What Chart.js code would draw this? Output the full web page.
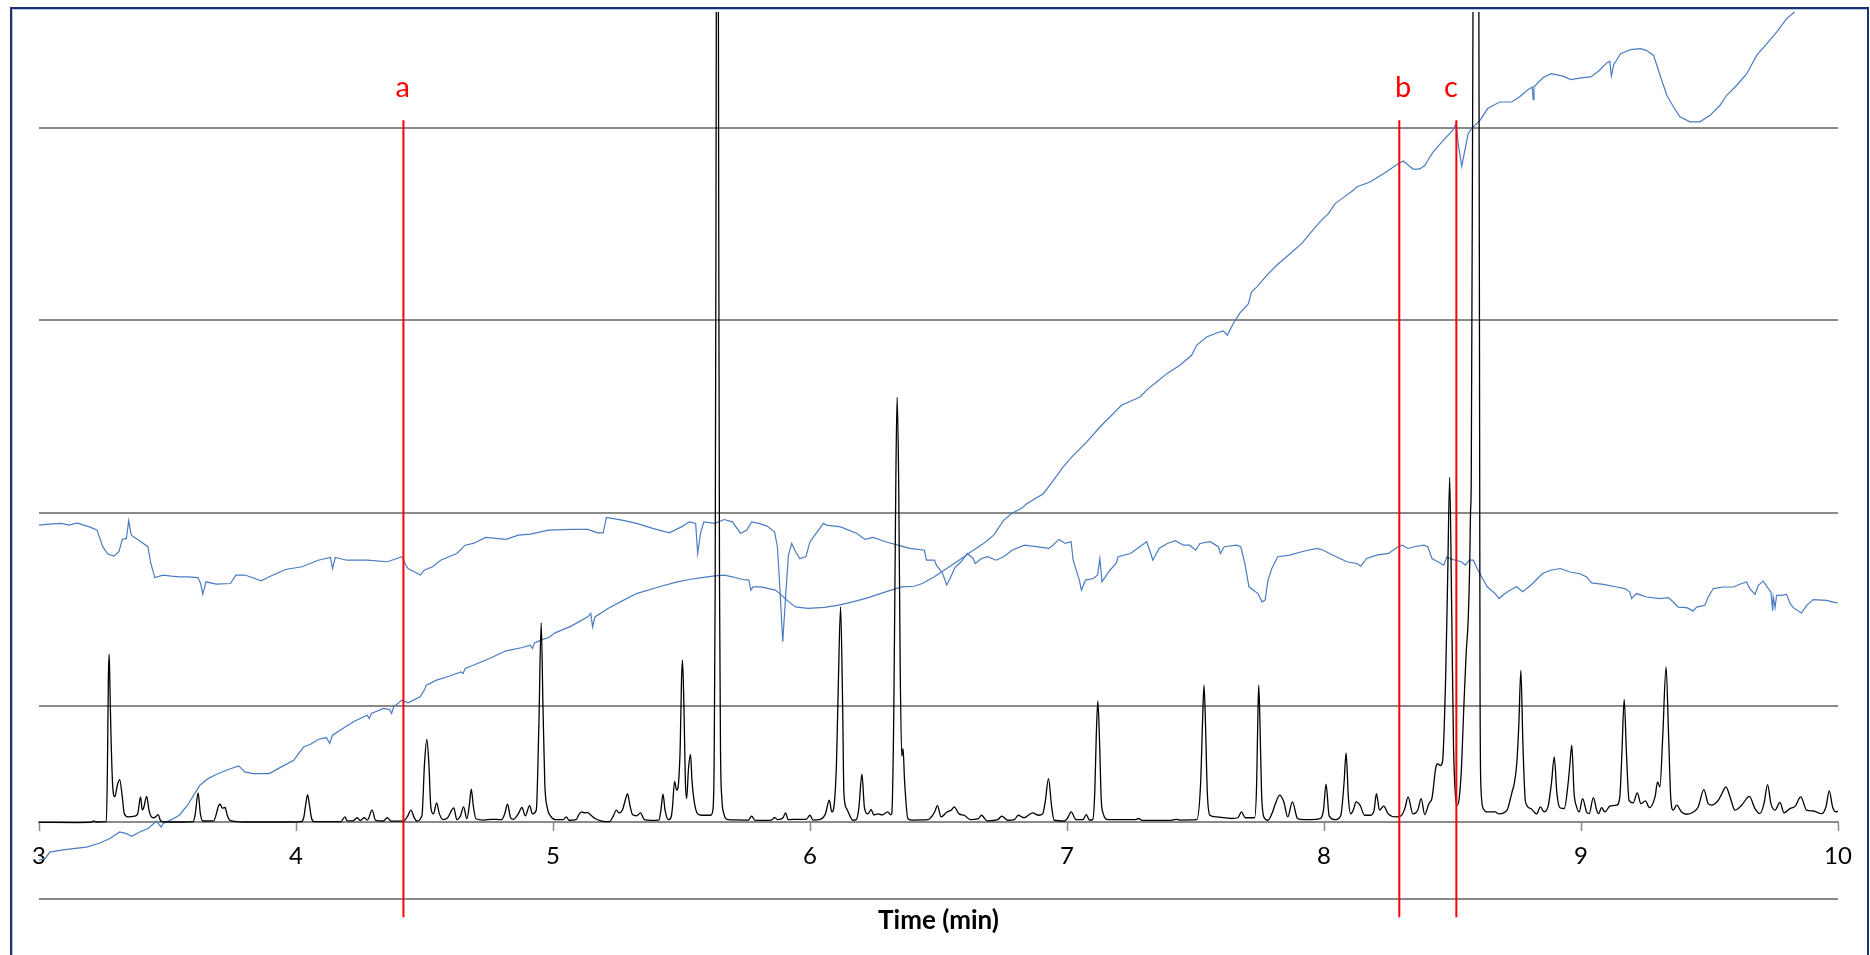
<!DOCTYPE html>
<html>
<head>
<meta charset="utf-8">
<title>Chromatogram</title>
<script src="https://cdn.jsdelivr.net/npm/chart.js@4/dist/chart.umd.min.js"></script>
<style>
  html, body { margin: 0; padding: 0; background: #ffffff; overflow: hidden; }
  #frame {
    position: absolute; left: 10px; top: 7px; width: 1859px; height: 1000px;
    box-sizing: border-box; border: 2px solid #1b3270;
    box-shadow: inset 1px 1px 0 #b9c5de;
  }
  #wrap { position: absolute; left: 0; top: 0; width: 1870px; height: 955px; }
</style>
</head>
<body>
<div id="frame"></div>
<div id="wrap"><canvas id="chart" width="1870" height="955"></canvas></div>
<script>
// Time axis ticks (min) and the levels where horizontal grid lines sit
const xTicks = [3, 4, 5, 6, 7, 8, 9, 10];
const gridLevels = [-0.4, 0.6, 1.6, 2.6, 3.6];

// Marker lines a, b, c: retention times, vertical extent and label placement
const markerLabels = ['a', 'b', 'c'];
const markerTimes = [4.418, 8.293, 8.515];
const markerLabelTimes = [4.4155, 8.308, 8.4935];
const markerSpan = [-0.496, 3.638];
const markerLabelLevel = 3.759;

// Detector signal (black): [time, signal]
const blackTrace = [
  [3.000,-0.004],[3.150,-0.005],[3.205,-0.003],[3.213,0.004],[3.222,-0.002],[3.262,0.000],[3.266,0.25],[3.270,0.75],
  [3.273,0.868],[3.276,0.70],[3.280,0.45],[3.287,0.18],[3.295,0.128],[3.305,0.19],[3.314,0.218],[3.324,0.128],
  [3.332,0.04],[3.348,0.024],[3.372,0.028],[3.384,0.04],[3.395,0.128],[3.402,0.06],[3.407,0.07],[3.419,0.131],
  [3.428,0.06],[3.438,0.024],[3.448,0.02],[3.464,0.036],[3.473,0.004],[3.490,-0.002],[3.560,-0.002],[3.600,0.0],
  [3.608,0.04],[3.619,0.149],[3.628,0.04],[3.638,0.003],[3.680,0.004],[3.690,0.04],[3.698,0.08],[3.705,0.09],
  [3.713,0.07],[3.724,0.073],[3.733,0.03],[3.745,0.005],[3.800,-0.002],[3.950,-0.002],[4.020,0.0],[4.030,0.02],
  [4.038,0.09],[4.045,0.14],[4.052,0.09],[4.060,0.02],[4.070,0.0],[4.175,0.0],[4.190,0.024],[4.200,0.004],
  [4.222,0.004],[4.238,0.02],[4.250,0.006],[4.265,0.02],[4.278,0.008],[4.296,0.059],[4.310,0.006],[4.340,0.003],
  [4.355,0.02],[4.370,0.002],[4.418,0.002],[4.435,0.03],[4.447,0.059],[4.460,0.02],[4.470,0.003],[4.490,0.03],
  [4.500,0.3],[4.509,0.426],[4.517,0.3],[4.525,0.07],[4.535,0.04],[4.547,0.097],[4.558,0.04],[4.573,0.01],
  [4.590,0.02],[4.614,0.071],[4.626,0.01],[4.640,0.03],[4.652,0.076],[4.665,0.015],[4.674,0.08],[4.682,0.168],
  [4.690,0.08],[4.700,0.015],[4.730,0.008],[4.760,0.012],[4.800,0.01],[4.812,0.04],[4.823,0.09],[4.835,0.02],
  [4.845,0.012],[4.865,0.04],[4.879,0.073],[4.892,0.03],[4.909,0.083],[4.920,0.04],[4.935,0.06],[4.945,0.5],
  [4.954,1.031],[4.961,0.6],[4.968,0.2],[4.978,0.07],[4.990,0.03],[5.010,0.01],[5.040,0.01],[5.052,0.025],
  [5.062,0.007],[5.090,0.01],[5.100,0.035],[5.111,0.05],[5.124,0.045],[5.135,0.047],[5.150,0.03],[5.165,0.015],
  [5.190,0.003],[5.220,0.0],[5.235,0.03],[5.246,0.059],[5.258,0.045],[5.270,0.06],[5.283,0.12],[5.290,0.145],
  [5.300,0.08],[5.310,0.035],[5.325,0.03],[5.341,0.045],[5.355,0.01],[5.380,0.006],[5.412,0.008],[5.420,0.06],
  [5.428,0.142],[5.436,0.06],[5.449,0.01],[5.460,0.025],[5.465,0.076],[5.473,0.209],[5.481,0.163],[5.489,0.21],
  [5.495,0.39],[5.500,0.73],[5.504,0.837],[5.510,0.56],[5.515,0.21],[5.520,0.12],[5.527,0.27],[5.535,0.348],
  [5.541,0.21],[5.550,0.10],[5.563,0.04],[5.579,0.033],[5.614,0.033],[5.622,0.06],[5.627,0.3],[5.631,1.2],
  [5.634,3.0],[5.637,5.5],[5.6395,6.4],[5.642,5.5],[5.645,3.0],[5.648,1.2],[5.652,0.35],[5.657,0.12],
  [5.665,0.04],[5.680,0.01],[5.760,0.008],[5.773,0.028],[5.786,0.006],[5.850,0.008],[5.862,0.021],[5.875,0.01],
  [5.895,0.02],[5.905,0.045],[5.915,0.01],[5.950,0.012],[5.985,0.012],[6.000,0.033],[6.012,0.008],[6.040,0.012],
  [6.060,0.04],[6.075,0.111],[6.085,0.05],[6.095,0.1],[6.103,0.3],[6.110,0.7],[6.119,1.114],[6.127,0.6],
  [6.132,0.145],[6.143,0.066],[6.167,0.007],[6.180,0.01],[6.190,0.07],[6.202,0.246],[6.212,0.07],[6.225,0.04],
  [6.238,0.062],[6.248,0.035],[6.265,0.04],[6.280,0.035],[6.302,0.05],[6.314,0.035],[6.318,0.04],[6.326,0.56],
  [6.334,1.77],[6.339,2.201],[6.345,1.77],[6.351,0.8],[6.357,0.34],[6.362,0.379],[6.368,0.21],[6.381,0.015],
  [6.400,0.008],[6.460,0.01],[6.472,0.024],[6.485,0.05],[6.496,0.083],[6.510,0.024],[6.533,0.05],[6.550,0.06],
  [6.561,0.076],[6.580,0.04],[6.600,0.033],[6.624,0.01],[6.655,0.015],[6.667,0.033],[6.690,0.004],[6.730,0.01],
  [6.746,0.028],[6.770,0.007],[6.795,0.01],[6.810,0.033],[6.833,0.02],[6.866,0.045],[6.890,0.033],[6.905,0.04],
  [6.915,0.1],[6.928,0.223],[6.940,0.08],[6.950,0.007],[6.990,0.003],[7.003,0.02],[7.016,0.05],[7.035,0.01],
  [7.062,0.01],[7.075,0.036],[7.088,0.007],[7.100,0.01],[7.108,0.15],[7.114,0.45],[7.120,0.626],[7.127,0.4],
  [7.133,0.12],[7.140,0.045],[7.160,0.01],[7.200,0.01],[7.265,0.01],[7.279,0.016],[7.292,0.006],[7.400,0.006],
  [7.425,0.012],[7.440,0.008],[7.505,0.01],[7.520,0.2],[7.527,0.5],[7.533,0.708],[7.539,0.5],[7.546,0.15],
  [7.556,0.033],[7.580,0.024],[7.640,0.016],[7.665,0.02],[7.679,0.05],[7.693,0.02],[7.730,0.02],[7.738,0.2],
  [7.742,0.5],[7.746,0.708],[7.751,0.5],[7.757,0.15],[7.766,0.024],[7.782,0.007],[7.800,0.05],[7.810,0.09],
  [7.828,0.137],[7.844,0.1],[7.859,0.024],[7.877,0.102],[7.897,0.016],[7.920,0.01],[7.950,0.01],[7.985,0.015],
  [7.998,0.06],[8.008,0.194],[8.020,0.03],[8.045,0.01],[8.065,0.03],[8.078,0.2],[8.086,0.356],[8.095,0.12],
  [8.104,0.04],[8.114,0.06],[8.125,0.102],[8.140,0.085],[8.158,0.033],[8.181,0.033],[8.195,0.06],[8.204,0.145],
  [8.216,0.059],[8.232,0.08],[8.250,0.04],[8.280,0.024],[8.300,0.03],[8.315,0.07],[8.327,0.128],[8.346,0.04],
  [8.365,0.06],[8.378,0.119],[8.392,0.036],[8.408,0.093],[8.420,0.12],[8.435,0.28],[8.443,0.301],[8.452,0.29],
  [8.461,0.31],[8.473,0.73],[8.481,1.25],[8.489,1.786],[8.497,1.08],[8.504,0.39],[8.512,0.128],[8.518,0.085],
  [8.526,0.12],[8.535,0.28],[8.543,0.56],[8.553,0.87],[8.561,1.045],[8.567,1.34],[8.570,1.6],[8.573,1.77],
  [8.580,4.3],[8.590,6.0],[8.602,4.6],[8.605,2.5],[8.607,0.8],[8.610,0.2],[8.620,0.067],[8.635,0.05],
  [8.650,0.05],[8.666,0.05],[8.681,0.04],[8.712,0.059],[8.727,0.128],[8.733,0.16],[8.739,0.189],[8.750,0.3],
  [8.758,0.5],[8.766,0.785],[8.774,0.4],[8.784,0.102],[8.804,0.068],[8.827,0.04],[8.842,0.076],[8.857,0.05],
  [8.873,0.085],[8.885,0.2],[8.896,0.336],[8.906,0.15],[8.918,0.072],[8.935,0.068],[8.950,0.2],[8.957,0.3],
  [8.964,0.396],[8.973,0.15],[8.983,0.076],[8.993,0.05],[9.006,0.119],[9.022,0.05],[9.032,0.041],[9.048,0.124],
  [9.061,0.059],[9.068,0.041],[9.080,0.072],[9.093,0.05],[9.113,0.081],[9.139,0.085],[9.151,0.128],[9.159,0.35],
  [9.168,0.634],[9.177,0.35],[9.187,0.11],[9.203,0.097],[9.219,0.149],[9.233,0.093],[9.251,0.107],[9.266,0.072],
  [9.288,0.128],[9.298,0.206],[9.307,0.18],[9.318,0.44],[9.331,0.802],[9.341,0.44],[9.349,0.128],[9.359,0.059],
  [9.372,0.085],[9.391,0.05],[9.411,0.038],[9.437,0.05],[9.456,0.076],[9.478,0.166],[9.495,0.093],[9.508,0.085],
  [9.521,0.093],[9.534,0.11],[9.547,0.142],[9.564,0.18],[9.580,0.128],[9.599,0.059],[9.625,0.085],[9.655,0.131],
  [9.677,0.067],[9.696,0.041],[9.712,0.093],[9.726,0.192],[9.739,0.093],[9.755,0.059],[9.774,0.1],[9.790,0.045],
  [9.813,0.067],[9.833,0.079],[9.855,0.128],[9.878,0.059],[9.904,0.055],[9.936,0.041],[9.953,0.076],[9.966,0.159],
  [9.979,0.076],[9.992,0.05],[10.000,0.055]
];

// Upper blue trace (roughly level): [time, value]
const blueTraceA = [
  [3.000,1.538],[3.038,1.543],[3.086,1.547],[3.118,1.538],[3.149,1.550],[3.173,1.538],[3.197,1.529],[3.226,1.512],
  [3.237,1.469],[3.248,1.426],[3.268,1.388],[3.292,1.377],[3.311,1.400],[3.324,1.464],[3.340,1.469],[3.349,1.561],
  [3.359,1.486],[3.388,1.460],[3.424,1.426],[3.435,1.339],[3.451,1.266],[3.483,1.279],[3.515,1.273],[3.546,1.270],
  [3.578,1.270],[3.618,1.266],[3.629,1.235],[3.637,1.180],[3.650,1.244],[3.689,1.232],[3.745,1.235],[3.766,1.279],
  [3.801,1.279],[3.840,1.261],[3.864,1.249],[3.896,1.270],[3.959,1.308],[4.023,1.322],[4.086,1.356],[4.134,1.370],
  [4.142,1.313],[4.153,1.370],[4.198,1.356],[4.277,1.356],[4.356,1.348],[4.412,1.374],[4.428,1.330],[4.436,1.313],
  [4.460,1.296],[4.484,1.279],[4.499,1.304],[4.531,1.322],[4.563,1.356],[4.595,1.374],[4.626,1.391],[4.658,1.434],
  [4.690,1.443],[4.738,1.474],[4.817,1.464],[4.865,1.486],[4.912,1.491],[4.984,1.512],[5.071,1.516],[5.135,1.516],
  [5.174,1.498],[5.195,1.498],[5.208,1.578],[5.230,1.573],[5.278,1.561],[5.325,1.547],[5.388,1.521],[5.452,1.498],
  [5.500,1.529],[5.531,1.555],[5.555,1.547],[5.563,1.391],[5.574,1.495],[5.587,1.555],[5.630,1.547],[5.666,1.567],
  [5.698,1.555],[5.730,1.495],[5.754,1.512],[5.773,1.555],[5.801,1.547],[5.833,1.533],[5.862,1.503],[5.873,1.426],
  [5.881,1.253],[5.894,0.933],[5.905,1.166],[5.916,1.382],[5.929,1.443],[5.944,1.400],[5.960,1.365],[5.984,1.374],
  [6.000,1.452],[6.024,1.495],[6.052,1.547],[6.064,1.538],[6.119,1.529],[6.183,1.495],[6.214,1.464],[6.246,1.474],
  [6.294,1.452],[6.341,1.434],[6.389,1.417],[6.445,1.408],[6.453,1.356],[6.484,1.356],[6.492,1.330],[6.516,1.287],
  [6.532,1.227],[6.548,1.270],[6.564,1.318],[6.588,1.348],[6.612,1.391],[6.635,1.365],[6.643,1.339],[6.667,1.365],
  [6.691,1.374],[6.723,1.356],[6.754,1.374],[6.786,1.408],[6.834,1.434],[6.881,1.426],[6.929,1.417],[6.945,1.434],
  [6.969,1.464],[6.993,1.443],[7.016,1.452],[7.024,1.356],[7.048,1.253],[7.056,1.201],[7.072,1.253],[7.103,1.261],
  [7.119,1.279],[7.128,1.365],[7.136,1.244],[7.167,1.304],[7.191,1.339],[7.199,1.374],[7.247,1.391],[7.310,1.452],
  [7.326,1.391],[7.334,1.356],[7.358,1.417],[7.390,1.443],[7.422,1.457],[7.453,1.434],[7.477,1.434],[7.501,1.408],
  [7.517,1.443],[7.557,1.452],[7.589,1.426],[7.597,1.391],[7.612,1.426],[7.660,1.434],[7.676,1.426],[7.692,1.339],
  [7.708,1.218],[7.743,1.183],[7.759,1.140],[7.771,1.149],[7.782,1.253],[7.797,1.313],[7.820,1.374],[7.866,1.382],
  [7.928,1.405],[7.974,1.417],[7.997,1.408],[8.035,1.382],[8.089,1.348],[8.128,1.339],[8.143,1.325],[8.166,1.365],
  [8.204,1.382],[8.251,1.391],[8.289,1.426],[8.304,1.434],[8.327,1.417],[8.351,1.426],[8.389,1.434],[8.404,1.426],
  [8.420,1.365],[8.443,1.348],[8.466,1.330],[8.478,1.374],[8.497,1.360],[8.512,1.356],[8.535,1.348],[8.550,1.330],
  [8.566,1.356],[8.581,1.356],[8.596,1.313],[8.620,1.253],[8.635,1.218],[8.666,1.183],[8.681,1.157],[8.704,1.183],
  [8.735,1.209],[8.750,1.218],[8.773,1.192],[8.789,1.209],[8.812,1.235],[8.850,1.287],[8.881,1.304],[8.919,1.313],
  [8.957,1.295],[8.996,1.286],[9.022,1.269],[9.041,1.238],[9.087,1.231],[9.139,1.217],[9.171,1.209],[9.190,1.191],
  [9.197,1.157],[9.216,1.183],[9.255,1.165],[9.307,1.157],[9.340,1.162],[9.359,1.139],[9.378,1.113],[9.411,1.110],
  [9.437,1.093],[9.450,1.113],[9.482,1.122],[9.495,1.165],[9.515,1.209],[9.554,1.217],[9.593,1.217],[9.618,1.231],
  [9.644,1.243],[9.657,1.209],[9.677,1.179],[9.690,1.226],[9.709,1.248],[9.729,1.209],[9.739,1.191],[9.746,1.093],
  [9.748,1.165],[9.755,1.110],[9.761,1.174],[9.781,1.174],[9.800,1.179],[9.813,1.134],[9.826,1.110],[9.858,1.082],
  [9.878,1.122],[9.904,1.152],[9.956,1.148],[9.982,1.139],[10.000,1.134]
];

// Lower blue trace (rising through the run): [time, value]
const blueTraceB = [
  [3.000,-0.200],[3.023,-0.192],[3.042,-0.158],[3.081,-0.149],[3.133,-0.140],[3.185,-0.132],[3.237,-0.111],[3.276,-0.088],
  [3.314,-0.054],[3.340,-0.062],[3.360,-0.076],[3.392,-0.054],[3.425,-0.036],[3.457,0.003],[3.475,-0.028],[3.483,-0.010],
  [3.515,0.010],[3.546,0.033],[3.578,0.085],[3.602,0.137],[3.626,0.189],[3.658,0.223],[3.689,0.244],[3.737,0.270],
  [3.777,0.289],[3.801,0.258],[3.832,0.249],[3.896,0.249],[3.943,0.284],[3.991,0.318],[4.015,0.362],[4.031,0.388],
  [4.055,0.400],[4.086,0.426],[4.118,0.436],[4.131,0.405],[4.142,0.448],[4.182,0.483],[4.229,0.522],[4.277,0.552],
  [4.285,0.535],[4.293,0.561],[4.341,0.587],[4.364,0.581],[4.372,0.561],[4.380,0.595],[4.412,0.630],[4.436,0.616],
  [4.483,0.647],[4.499,0.682],[4.507,0.708],[4.547,0.734],[4.595,0.754],[4.642,0.777],[4.650,0.768],[4.658,0.794],
  [4.690,0.811],[4.753,0.846],[4.817,0.886],[4.881,0.903],[4.912,0.915],[4.920,0.898],[4.928,0.927],[4.960,0.945],
  [4.984,0.955],[5.008,0.979],[5.071,1.014],[5.135,1.062],[5.147,1.080],[5.154,1.010],[5.163,1.062],[5.214,1.106],
  [5.262,1.140],[5.325,1.183],[5.420,1.221],[5.484,1.244],[5.531,1.256],[5.579,1.266],[5.630,1.275],[5.666,1.279],
  [5.698,1.270],[5.738,1.256],[5.762,1.253],[5.770,1.201],[5.778,1.218],[5.809,1.218],[5.865,1.201],[5.889,1.175],
  [5.913,1.145],[5.944,1.114],[5.992,1.106],[6.056,1.111],[6.111,1.123],[6.167,1.140],[6.230,1.163],[6.294,1.192],
  [6.357,1.218],[6.405,1.221],[6.437,1.235],[6.484,1.270],[6.532,1.313],[6.580,1.356],[6.627,1.400],[6.675,1.443],
  [6.715,1.486],[6.754,1.564],[6.786,1.600],[6.823,1.625],[6.843,1.649],[6.908,1.701],[6.947,1.770],[6.985,1.840],
  [7.018,1.891],[7.076,1.969],[7.128,2.047],[7.167,2.099],[7.212,2.160],[7.284,2.203],[7.316,2.246],[7.349,2.281],
  [7.388,2.324],[7.439,2.367],[7.485,2.419],[7.504,2.471],[7.543,2.514],[7.582,2.535],[7.608,2.545],[7.624,2.523],
  [7.647,2.584],[7.673,2.639],[7.706,2.687],[7.718,2.748],[7.738,2.773],[7.777,2.834],[7.816,2.886],[7.868,2.946],
  [7.913,2.998],[7.945,3.050],[7.984,3.111],[8.017,3.154],[8.043,3.206],[8.075,3.237],[8.114,3.275],[8.127,3.292],
  [8.179,3.318],[8.231,3.361],[8.270,3.396],[8.293,3.417],[8.309,3.427],[8.328,3.405],[8.348,3.384],[8.373,3.386],
  [8.393,3.405],[8.400,3.422],[8.425,3.474],[8.464,3.534],[8.503,3.590],[8.514,3.621],[8.523,3.508],[8.536,3.400],
  [8.548,3.482],[8.561,3.569],[8.574,3.595],[8.607,3.638],[8.637,3.699],[8.683,3.733],[8.730,3.733],[8.760,3.759],
  [8.791,3.794],[8.810,3.811],[8.814,3.745],[8.817,3.812],[8.853,3.860],[8.884,3.880],[8.930,3.867],[8.961,3.849],
  [9.007,3.860],[9.038,3.863],[9.069,3.894],[9.100,3.936],[9.112,3.945],[9.118,3.867],[9.127,3.925],[9.154,3.984],
  [9.192,4.005],[9.231,4.010],[9.254,4.001],[9.282,3.976],[9.295,3.924],[9.314,3.846],[9.334,3.768],[9.360,3.707],
  [9.385,3.656],[9.424,3.630],[9.463,3.630],[9.502,3.664],[9.541,3.716],[9.567,3.768],[9.606,3.820],[9.645,3.880],
  [9.684,3.976],[9.729,4.045],[9.762,4.097],[9.800,4.166],[9.829,4.197],[9.850,4.230]
];

const toPoints = rows => rows.map(([x, y]) => ({ x, y }));
const GRID_GREY = '#8a8a8a';
const FONT = 'Lato, "Open Sans", sans-serif';

// Letters above the marker lines
const markerText = {
  id: 'markerText',
  afterDatasetsDraw(chart) {
    const { ctx, scales: { x, y } } = chart;
    ctx.save();
    ctx.font = '29px ' + FONT;
    ctx.fillStyle = '#ff0000';
    ctx.textAlign = 'center';
    ctx.textBaseline = 'alphabetic';
    markerLabels.forEach((label, i) => {
      ctx.fillText(label, x.getPixelForValue(markerLabelTimes[i]), y.getPixelForValue(markerLabelLevel));
    });
    ctx.restore();
  }
};

const markerSets = markerTimes.map(t => ({
  data: [{ x: t, y: markerSpan[0] }, { x: t, y: markerSpan[1] }],
  borderColor: '#ff0000',
  borderWidth: 2,
  pointRadius: 0,
  clip: false
}));

new Chart(document.getElementById('chart'), {
  type: 'line',
  data: {
    datasets: [
      ...markerSets,
      {
        data: toPoints(blackTrace),
        borderColor: '#000000',
        borderWidth: 1.3,
        pointRadius: 0,
        cubicInterpolationMode: 'monotone'
      },
      {
        data: toPoints(blueTraceA),
        borderColor: '#4a7cc2',
        borderWidth: 1.2,
        pointRadius: 0
      },
      {
        data: toPoints(blueTraceB),
        borderColor: '#4a7cc2',
        borderWidth: 1.2,
        pointRadius: 0
      }
    ]
  },
  options: {
    responsive: false,
    animation: false,
    devicePixelRatio: 1,
    layout: { padding: { left: 39, right: 32, top: 12, bottom: 0 } },
    plugins: {
      legend: { display: false },
      tooltip: { enabled: false },
      title: {
        display: true,
        text: 'Time (min)',
        position: 'bottom',
        color: '#000000',
        font: { family: FONT, size: 26, weight: 'bold' },
        padding: { top: 6.8, bottom: 18.3 }
      }
    },
    scales: {
      x: {
        type: 'linear',
        min: 3,
        max: 10,
        position: { y: 0 },
        afterBuildTicks: scale => { scale.ticks = xTicks.map(v => ({ value: v })); },
        ticks: { color: '#000000', font: { family: FONT, size: 24 }, padding: 12, maxRotation: 0, autoSkip: false },
        grid: { drawOnChartArea: false, drawTicks: true, tickLength: 8, color: GRID_GREY, tickWidth: 1.5 },
        border: { display: true, color: GRID_GREY, width: 2 }
      },
      y: {
        type: 'linear',
        min: -0.4,
        max: 4.2,
        afterBuildTicks: scale => { scale.ticks = gridLevels.map(v => ({ value: v })); },
        ticks: { display: false },
        grid: { color: GRID_GREY, lineWidth: 2, drawTicks: false },
        border: { display: false }
      }
    }
  },
  plugins: [markerText]
});
</script>
</body>
</html>
